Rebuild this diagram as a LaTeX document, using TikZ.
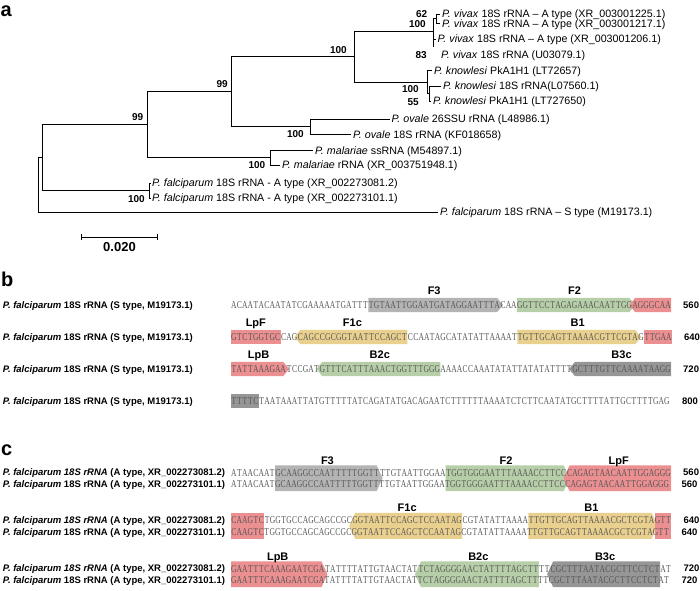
\documentclass[tikz,border=0pt]{standalone}
\usepackage{fontspec}
\setmainfont{Liberation Sans}
\newfontfamily\seqfont[FakeStretch=0.72]{Liberation Serif}
\usetikzlibrary{positioning, calc, backgrounds}

\definecolor{seqgray}{RGB}{85,85,85}
\definecolor{boxgrayA}{RGB}{180,180,180}
\definecolor{boxgrayB}{RGB}{150,150,150}
\definecolor{boxgreen}{RGB}{183,207,168}
\definecolor{boxyellow}{RGB}{233,208,143}
\definecolor{boxred}{RGB}{235,143,145}

\newlength\cellw
\setlength\cellw{5.475pt}
\def\seqrow#1{\seqcell#1\relax}
\def\seqcell#1{\ifx\relax#1\else\hbox to\cellw{\hss#1\hss}\expandafter\seqcell\fi}

\newcommand\shRect[3]{\fill[#1] (#2.north west) rectangle (#2.east |- #3.south);}
\newcommand\shRight[3]{\fill[#1] (#2.north west) -- ($(#2.north east)+(-3pt,0)$)
        -- ($(#2.north east)!.5!(#2.east |- #3.south)+(3pt,0)$)
        -- ($(#2.east |- #3.south)+(-3pt,0)$) -- (#2.west |- #3.south) -- cycle;}
\newcommand\shLeft[3]{\fill[#1] (#2.north east) -- ($(#2.north west)+(3pt,0)$)
        -- ($(#2.north west)!.5!(#2.west |- #3.south)+(-3pt,0)$)
        -- ($(#2.west |- #3.south)+(3pt,0)$) -- (#2.east |- #3.south) -- cycle;}

\begin{document}
\begin{tikzpicture}[x=1pt, y=-1pt,
        br/.style={line width=1pt},
        leaf/.style={font=\fontsize{10.7}{12}\selectfont, inner sep=0pt, anchor=west, text height=7.7pt, text depth=0pt},
        boot/.style={font=\bfseries\fontsize{10}{12}\selectfont, inner sep=0pt, anchor=east, text height=7.2pt, text depth=0pt},
        pan/.style={font=\bfseries\fontsize{20}{22}\selectfont, inner sep=0pt, anchor=base west, text height=10.5pt, text depth=0pt},
        seqtxt/.style={font=\seqfont\fontsize{10.5}{12}\selectfont, text=seqgray, inner sep=0pt, text height=10.5pt, text depth=3.5pt},
        rowlab/.style={font=\bfseries\fontsize{9.5}{11}\selectfont, inner sep=0pt, anchor=west, text height=6.8pt, text depth=0pt},
        tag/.style={font=\bfseries\fontsize{11}{12}\selectfont, inner sep=0pt, text height=7.9pt, text depth=0pt}]
        \useasboundingbox (0,0) rectangle (700,590);

        \node[pan] (pa) at (0.5,16) {a};

        \node[leaf] (v1) at (442,14) {\textit{P. vivax} 18S rRNA – A type (XR\_003001225.1)};
        \node[leaf] (v2) at (442,23.5) {\textit{P. vivax} 18S rRNA – A type (XR\_003001217.1)};
        \node[leaf] (v3) at (437.5,39) {\textit{P. vivax} 18S rRNA – A type (XR\_003001206.1)};
        \node[leaf] (v4) at (441,54.5) {\textit{P. vivax} 18S rRNA (U03079.1)};
        \node[leaf] (k1) at (434,70.5) {\textit{P. knowlesi} PkA1H1 (LT72657)};
        \node[leaf] (k2) at (443,86) {\textit{P. knowlesi} 18S rRNA(L07560.1)};
        \node[leaf] (k3) at (433,101) {\textit{P. knowlesi} PkA1H1 (LT727650)};
        \node[leaf] (o1) at (391.5,119) {\textit{P. ovale} 26SSU rRNA (L48986.1)};
        \node[leaf] (o2) at (353,134.5) {\textit{P. ovale} 18S rRNA (KF018658)};
        \node[leaf] (m1) at (315,150.5) {\textit{P. malariae} ssRNA (M54897.1)};
        \node[leaf] (m2) at (282,165) {\textit{P. malariae} rRNA (XR\_003751948.1)};
        \node[leaf] (f1) at (152,183) {\textit{P. falciparum} 18S rRNA - A type (XR\_002273081.2)};
        \node[leaf] (f2) at (152,198) {\textit{P. falciparum} 18S rRNA - A type (XR\_002273101.1)};
        \node[leaf] (fs) at (440,212) {\textit{P. falciparum} 18S rRNA – S type (M19173.1)};

        \coordinate (n62) at (436,18.75);
        \coordinate (nv) at (433,31.7);
        \coordinate (nvend) at (433,46.7);
        \coordinate (n55) at (429,93.5);
        \coordinate (nk) at (427,82);
        \coordinate (nvk) at (354,56.8);
        \coordinate (no) at (310,126.75);
        \coordinate (n231) at (231,91.8);
        \coordinate (nm) at (270,157.75);
        \coordinate (n147) at (147,124.8);
        \coordinate (nf) at (149.5,190.5);
        \coordinate (n43) at (42.7,157.6);
        \coordinate (root) at (38.5,184.8);

        \draw[br] (root) |- (n43) (root) |- ([xshift=-2pt]fs.west)
        (n43) |- (n147) (n43) |- (nf)
        (nf) |- ([xshift=-1.5pt]f1.west) (nf) |- ([xshift=-1.5pt]f2.west)
        (n147) |- (n231) (n147) |- (nm)
        (nm) |- ([xshift=-2pt]m1.west) (nm) |- ([xshift=-2pt]m2.west)
        (n231) |- (nvk) (n231) |- (no)
        (no) |- ([xshift=-2pt]o1.west) (no) |- ([xshift=-2pt]o2.west)
        (nvk) |- (nv) (nvk) |- (nk)
        (nk) |- ([xshift=-2pt]k1.west) (nk) |- (n55)
        (n55) |- ([xshift=-2pt]k2.west) (n55) |- ([xshift=-2pt]k3.west)
        (nv) |- (n62) (nv) |- ([xshift=-2pt]v3.west) (nv) -- (nvend)
        (n62) |- ([xshift=-2pt]v1.west) (n62) |- ([xshift=-2pt]v2.west);

        \node[boot] (bs62) at (427.5,14) {62};
        \node[boot] (bs100v) at (426,23.5) {100};
        \node[boot] (bs83) at (427,54.5) {83};
        \node[boot] (bs100vk) at (347,50) {100};
        \node[boot] (bs100k) at (419,89) {100};
        \node[boot] (bs55) at (419,101.5) {55};
        \node[boot] (bs99a) at (228,83.5) {99};
        \node[boot] (bs99b) at (143.5,117) {99};
        \node[boot] (bs100o) at (304,133.5) {100};
        \node[boot] (bs100m) at (265.5,165) {100};
        \node[boot] (bs100f) at (145,199) {100};

        \coordinate (sbl) at (81.7,237);
        \coordinate (sbr) at (157.3,237);
        \draw[line width=0.8pt] (sbl) -- (sbr) ($(sbl)+(0,-3)$) -- ($(sbl)+(0,3)$) ($(sbr)+(0,-3)$) -- ($(sbr)+(0,3)$);
        \node[font=\bfseries\fontsize{13}{14}\selectfont, inner sep=0pt, text height=9.3pt, text depth=0pt] (sblab) at (119.5,246.5) {0.020};

        \node[pan] (pb) at (1,286.7) {b};

        \node[rowlab] (lb1) at (2.7,305) {\textit{P. falciparum} 18S rRNA (S type, M19173.1)};
        \node[seqtxt, anchor=west] (b1a) at (231,305) {\seqrow{ACAATACAATATCGAAAAATGATTT}};
        \node[seqtxt, right=0pt of b1a] (b1f3) {\seqrow{TGTAATTGGAATGATAGGAATTTA}};
        \node[seqtxt, right=0pt of b1f3] (b1b) {\seqrow{CAA}};
        \node[seqtxt, right=0pt of b1b] (b1f2) {\seqrow{GGTTCCTAGAGAAACAATTGG}};
        \node[seqtxt, right=0pt of b1f2] (b1lpf) {\seqrow{AGGGCAA}};
        \node[rowlab, right=12pt of b1lpf] (nb1) {560};

        \node[rowlab] (lb2) at (2.7,337) {\textit{P. falciparum} 18S rRNA (S type, M19173.1)};
        \node[seqtxt, anchor=west] (b2lpf) at (231,337) {\seqrow{GTCTGGTGC}};
        \node[seqtxt, right=0pt of b2lpf] (b2a) {\seqrow{CAG}};
        \node[seqtxt, right=0pt of b2a] (b2f1c) {\seqrow{CAGCCGCGGTAATTCCAGCT}};
        \node[seqtxt, right=0pt of b2f1c] (b2b) {\seqrow{CCAATAGCATATATTAAAAT}};
        \node[seqtxt, right=0pt of b2b] (b2b1) {\seqrow{TGTTGCAGTTAAAACGTTCGTA}};
        \node[seqtxt, right=0pt of b2b1] (b2c) {\seqrow{G}};
        \node[seqtxt, right=0pt of b2c] (b2lpb) {\seqrow{TTGAA}};
        \node[rowlab, right=12pt of b2lpb] (nb2) {640};

        \node[rowlab] (lb3) at (2.7,369) {\textit{P. falciparum} 18S rRNA (S type, M19173.1)};
        \node[seqtxt, anchor=west] (b3lpb) at (231,369) {\seqrow{TATTAAAGAA}};
        \node[seqtxt, right=0pt of b3lpb] (b3a) {\seqrow{TCCGAT}};
        \node[seqtxt, right=0pt of b3a] (b3b2c) {\seqrow{GTTTCATTTAAACTGGTTTGGG}};
        \node[seqtxt, right=0pt of b3b2c] (b3b) {\seqrow{AAAACCAAATATATTATATATTTT}};
        \node[seqtxt, right=0pt of b3b] (b3b3c) {\seqrow{GCTTTGTTCAAAATAAGG}};
        \node[rowlab, right=12pt of b3b3c] (nb3) {720};

        \node[rowlab] (lb4) at (2.7,401) {\textit{P. falciparum} 18S rRNA (S type, M19173.1)};
        \node[seqtxt, anchor=west] (b4b3c) at (231,401) {\seqrow{TTTTC}};
        \node[seqtxt, right=0pt of b4b3c] (b4a) {\seqrow{TAATAAATTATGTTTTTATCAGATATGACAGAATCTTTTTTAAAATCTCTTCAATATGCTTTTATTGCTTTTGAG}};
        \node[rowlab, right=12pt of b4a] (nb4) {800};

        \node[tag, above=3.5pt of b1f3] (tbf3) {F3};
        \node[tag, above=3.5pt of b1f2] (tbf2) {F2};
        \node[tag, above=3.5pt of b2lpf] (tblpf) {LpF};
        \node[tag, above=3.5pt of b2f1c] (tbf1c) {F1c};
        \node[tag, above=3.5pt of b2b1] (tbb1) {B1};
        \node[tag, above=3.5pt of b3lpb] (tblpb) {LpB};
        \node[tag, above=3.5pt of b3b2c] (tbb2c) {B2c};
        \node[tag, above=3.5pt of b3b3c] (tbb3c) {B3c};

        \node[pan] (pc) at (1,455) {c};

        \node[rowlab] (lc1) at (2.7,472.5) {\textit{P. falciparum 18S rRNA} (A type, XR\_002273081.2)};
        \node[seqtxt, anchor=west] (c1a) at (231,472.5) {\seqrow{ATAACAAT}};
        \node[seqtxt, right=0pt of c1a] (c1f3) {\seqrow{GCAAGGCCAATTTTTGGTT}};
        \node[seqtxt, right=0pt of c1f3] (c1b) {\seqrow{TTGTAATTGGAA}};
        \node[seqtxt, right=0pt of c1b] (c1f2) {\seqrow{TGGTGGGAATTTAAAACCTTCC}};
        \node[seqtxt, right=0pt of c1f2] (c1lpf) {\seqrow{CAGAGTAACAATTGGAGGG}};
        \node[rowlab, right=12pt of c1lpf] (nc1) {560};
        \node[rowlab] (lc2) at (2.7,484) {\textit{P. falciparum} 18S rRNA (A type, XR\_002273101.1)};
        \node[seqtxt, anchor=west] (c2) at (231,484) {\seqrow{ATAACAATGCAAGGCCAATTTTTGGTTTTGTAATTGGAATGGTGGGAATTTAAAACCTTCCCAGAGTAACAATTGGAGGG}};
        \node[rowlab, right=12pt of c2] (nc2) {560};

        \node[rowlab] (lc3) at (2.7,520) {\textit{P. falciparum 18S rRNA} (A type, XR\_002273081.2)};
        \node[seqtxt, anchor=west] (c3lpf) at (231,520) {\seqrow{CAAGTC}};
        \node[seqtxt, right=0pt of c3lpf] (c3a) {\seqrow{TGGTGCCAGCAGCCGC}};
        \node[seqtxt, right=0pt of c3a] (c3f1c) {\seqrow{GGTAATTCCAGCTCCAATAG}};
        \node[seqtxt, right=0pt of c3f1c] (c3b) {\seqrow{CGTATATTAAAA}};
        \node[seqtxt, right=0pt of c3b] (c3b1) {\seqrow{TTGTTGCAGTTAAAACGCTCGTA}};
        \node[seqtxt, right=0pt of c3b1] (c3lpb) {\seqrow{GTT}};
        \node[rowlab, right=12pt of c3lpb] (nc3) {640};
        \node[rowlab] (lc4) at (2.7,531.7) {\textit{P. falciparum} 18S rRNA (A type, XR\_002273101.1)};
        \node[seqtxt, anchor=west] (c4) at (231,531.7) {\seqrow{CAAGTCTGGTGCCAGCAGCCGCGGTAATTCCAGCTCCAATAGCGTATATTAAAATTGTTGCAGTTAAAACGCTCGTAGTT}};
        \node[rowlab, right=12pt of c4] (nc4) {640};

        \node[rowlab] (lc5) at (2.7,568.5) {\textit{P. falciparum 18S rRNA} (A type, XR\_002273081.2)};
        \node[seqtxt, anchor=west] (c5lpb) at (231,568.5) {\seqrow{GAATTTCAAAGAATCGA}};
        \node[seqtxt, right=0pt of c5lpb] (c5a) {\seqrow{TATTTTATTGTAACTAT}};
        \node[seqtxt, right=0pt of c5a] (c5b2c) {\seqrow{TCTAGGGGAACTATTTTAGCTT}};
        \node[seqtxt, right=0pt of c5b2c] (c5b) {\seqrow{TT}};
        \node[seqtxt, right=0pt of c5b] (c5b3c) {\seqrow{CGCTTTAATACGCTTCCTCT}};
        \node[seqtxt, right=0pt of c5b3c] (c5c) {\seqrow{AT}};
        \node[rowlab, right=12pt of c5c] (nc5) {720};
        \node[rowlab] (lc6) at (2.7,580) {\textit{P. falciparum} 18S rRNA (A type, XR\_002273101.1)};
        \node[seqtxt, anchor=west] (c6) at (231,580) {\seqrow{GAATTTCAAAGAATCGATATTTTATTGTAACTATTCTAGGGGAACTATTTTAGCTTTTCGCTTTAATACGCTTCCTCTAT}};
        \node[rowlab, right=12pt of c6] (nc6) {720};

        \node[tag, above=1pt of c1f3] (tcf3) {F3};
        \node[tag, above=1pt of c1f2] (tcf2) {F2};
        \node[tag, above=1pt of c1lpf] (tclpf) {LpF};
        \node[tag, above=1pt of c3f1c] (tcf1c) {F1c};
        \node[tag, above=1pt of c3b1] (tcb1) {B1};
        \node[tag, above=1pt of c5lpb] (tclpb) {LpB};
        \node[tag, above=1pt of c5b2c] (tcb2c) {B2c};
        \node[tag, above=1pt of c5b3c] (tcb3c) {B3c};

        \begin{scope}[on background layer]
        \shRight{boxgrayA}{b1f3}{b1f3}
        \shRight{boxgreen}{b1f2}{b1f2}
        \shLeft{boxred}{b1lpf}{b1lpf}
        \shRect{boxred}{b2lpf}{b2lpf}
        \shLeft{boxyellow}{b2f1c}{b2f1c}
        \shRight{boxyellow}{b2b1}{b2b1}
        \shRect{boxred}{b2lpb}{b2lpb}
        \shRight{boxred}{b3lpb}{b3lpb}
        \shLeft{boxgreen}{b3b2c}{b3b2c}
        \shLeft{boxgrayB}{b3b3c}{b3b3c}
        \shRect{boxgrayB}{b4b3c}{b4b3c}
        \shRight{boxgrayA}{c1f3}{c2}
        \shRight{boxgreen}{c1f2}{c2}
        \shLeft{boxred}{c1lpf}{c2}
        \shRect{boxred}{c3lpf}{c4}
        \shLeft{boxyellow}{c3f1c}{c4}
        \shRight{boxyellow}{c3b1}{c4}
        \shRect{boxred}{c3lpb}{c4}
        \shRight{boxred}{c5lpb}{c6}
        \shLeft{boxgreen}{c5b2c}{c6}
        \shLeft{boxgrayB}{c5b3c}{c6}
        \end{scope}
\end{tikzpicture}
\end{document}
